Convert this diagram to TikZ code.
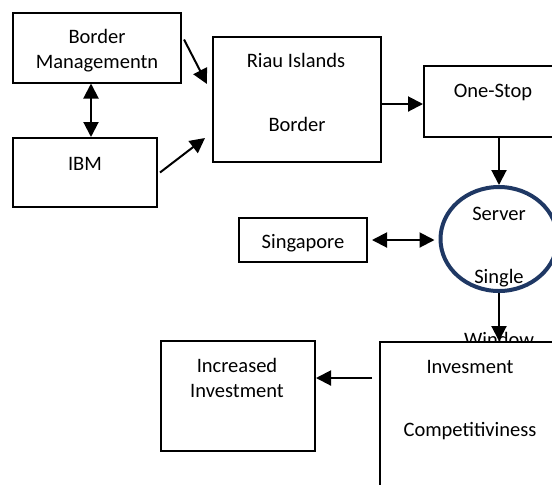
\documentclass[tikz,border=0pt]{standalone}
\usepackage{fontspec}
\setmainfont{Carlito}
\usetikzlibrary{arrows.meta,shapes.geometric}
\definecolor{ringblue}{RGB}{31,56,100}
\tikzset{
    box/.style={draw, line width=1pt, fill=white, inner sep=0pt},
    txt/.style={anchor=base, inner sep=0pt, font=\fontsize{10.25}{12.5}\selectfont},
    arr/.style={line width=1pt, -{Triangle[length=7.5pt,width=7.5pt]}},
    darr/.style={line width=1pt, {Triangle[length=7.5pt,width=7.5pt]}-{Triangle[length=7.5pt,width=7.5pt]}}
}
\begin{document}
\begin{tikzpicture}[x=0.5pt,y=-0.5pt]
            \useasboundingbox (0,0) rectangle (552,484);
            % boxes
            \node[box, minimum width=84pt, minimum height=35pt] (bm) at (97,47.5) {};
            \node[box, minimum width=72pt, minimum height=34.5pt] (ibm) at (85,172.5) {};
            \node[box, minimum width=84pt, minimum height=62.5pt] (riau) at (297,99.5) {};
            \node[box, minimum width=88pt, minimum height=35.5pt] (os) at (512,101.5) {};
            \node[box, minimum width=64pt, minimum height=22pt] (sg) at (303,240) {};
            \node[box, minimum width=77pt, minimum height=55pt] (inc) at (238,396) {};
            \node[draw=ringblue, line width=2pt, ellipse, inner sep=0pt,
                minimum width=58.5pt, minimum height=52pt] (srv) at (499,239) {};
            % labels
            \foreach \x/\y/\t [count=\i] in {97/43/Border, 97/68/Managementn, 85/170/IBM,
                    296/67/Riau Islands, 297/131/Border, 493/97/One-Stop, 303/248/Singapore,
                    499/220/Server, 499/283/Single, 237/372/Increased, 237/397/Investment} {
                \node[txt] (l\i) at (\x,\y) {\t};
            }
            % the window label sits under the box below it
            \node[txt] (win) at (499,346) {Window};
            \node[box, minimum width=110pt, minimum height=89pt] (inv) at (490,431) {};
            \node[txt] (inv1) at (470,373) {Invesment};
            \node[txt] (inv2) at (470,436) {Competitiviness};
            % arrows
            \draw[darr] ([xshift=-3pt]bm.south) -- ([xshift=-3pt]bm.south |- ibm.north);
            \draw[arr] ([shift={(2,28)}]bm.north east) -- ([shift={(-5,48)}]riau.north west);
            \draw[arr] ([xshift=1pt]ibm.east) -- ([shift={(-7,-25)}]riau.south west);
            \draw[arr] ([yshift=-2.25pt]riau.east) -- ([yshift=-2.25pt]riau.east -| os.west);
            \draw[arr] (srv.north |- os.south) -- (srv.north);
            \draw[darr, shorten <=2pt, shorten >=2pt] (sg.east) -- (sg.east -| srv.west);
            \draw[arr] (srv.south) -- (srv.south |- inv.north);
            \draw[arr, shorten <=3.5pt] ([yshift=9pt]inc.east -| inv.west) -- ([yshift=9pt]inc.east);
        \end{tikzpicture}
\end{document}
